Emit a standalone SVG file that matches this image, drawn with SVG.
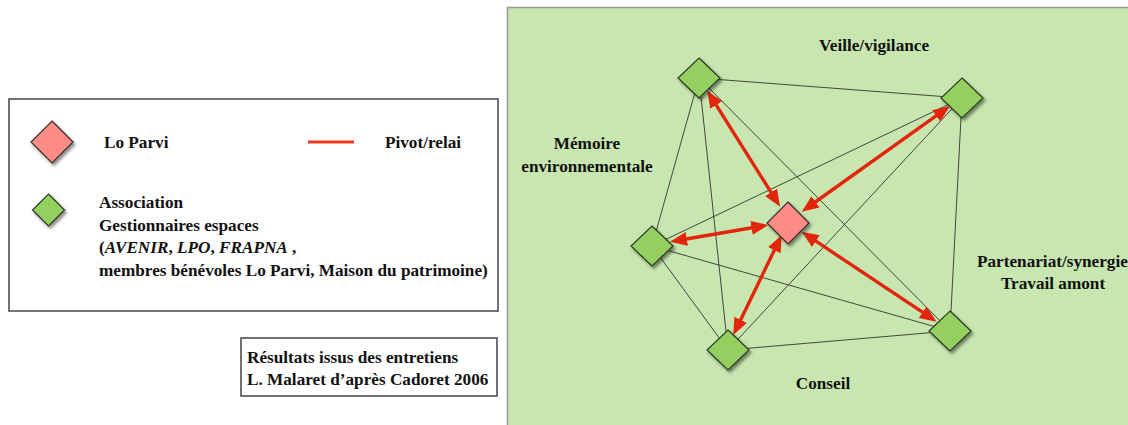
<svg xmlns="http://www.w3.org/2000/svg" width="1128" height="425" viewBox="0 0 1128 425">
<style>
text{font-family:"Liberation Serif","Times New Roman",serif;font-weight:bold;font-size:17.2px;fill:#111}
.it{font-style:italic}
.mid{text-anchor:middle}
.box{fill:#fff;stroke:#444;stroke-width:1.5}
.edge{stroke:#333;stroke-width:0.9;fill:none}
.arrow{stroke:#e3260b;stroke-width:3.4;fill:none;marker-start:url(#ah);marker-end:url(#ah)}
.green{fill:#93d05e;stroke:#2f3a26;stroke-width:1.2;filter:url(#sh)}
.pink{fill:#fd8c85;stroke:#3a2a28;stroke-width:1.2;filter:url(#sh)}
</style>
<defs>
<filter id="sh" x="-30%" y="-30%" width="170%" height="170%">
<feDropShadow dx="2" dy="2.5" stdDeviation="1.6" flood-color="#000" flood-opacity="0.45"/>
</filter>
<marker id="ah" markerUnits="userSpaceOnUse" markerWidth="18" markerHeight="16" viewBox="0 0 18 16" refX="8" refY="8" orient="auto-start-reverse">
<path d="M0,1 L17,8 L0,15 z" fill="#e3260b"/>
</marker>
</defs>
<rect width="1128" height="425" fill="#fff"/>
<rect id="panel" x="507.5" y="7.5" width="640" height="440" fill="#c8e6b0" stroke="#999" stroke-width="1.5"/>

<g id="legend">
<rect class="box" x="9" y="99" width="489" height="212"/>
<path class="pink" d="M52,121 L73,142 L52,163 L31,142 z"/>
<text x="104" y="148">Lo Parvi</text>
<line x1="308" y1="142" x2="354" y2="142" stroke="#f03a1e" stroke-width="3"/>
<text x="385" y="148">Pivot/relai</text>
<path class="green" d="M48.5,194 L64.5,210 L48.5,226 L32.5,210 z"/>
<text x="99" y="208">Association</text>
<text x="99" y="230.5">Gestionnaires espaces</text>
<text x="99" y="253">(<tspan class="it">AVENIR</tspan>, <tspan class="it">LPO</tspan>, <tspan class="it">FRAPNA</tspan> ,</text>
<text x="99" y="275.5">membres bénévoles Lo Parvi, Maison du patrimoine)</text>
</g>

<g id="source">
<rect class="box" x="241" y="338" width="256" height="58"/>
<text x="247" y="362.5">Résultats issus des entretiens</text>
<text x="247" y="385">L. Malaret d’après Cadoret 2006</text>
</g>

<g id="connectors">
<line class="edge" x1="699" y1="78" x2="962" y2="98"/>
<line class="edge" x1="699" y1="78" x2="652" y2="246"/>
<line class="edge" x1="699" y1="78" x2="728" y2="350"/>
<line class="edge" x1="699" y1="78" x2="950" y2="331"/>
<line class="edge" x1="962" y1="98" x2="652" y2="246"/>
<line class="edge" x1="962" y1="98" x2="728" y2="350"/>
<line class="edge" x1="962" y1="98" x2="950" y2="331"/>
<line class="edge" x1="652" y1="246" x2="728" y2="350"/>
<line class="edge" x1="652" y1="246" x2="950" y2="331"/>
<line class="edge" x1="728" y1="350" x2="950" y2="331"/>
<line class="arrow" x1="712" y1="98.3" x2="775.3" y2="199.1"/>
<line class="arrow" x1="942.7" y1="111.2" x2="809" y2="206.5"/>
<line class="arrow" x1="678.9" y1="240.2" x2="759.4" y2="226.5"/>
<line class="arrow" x1="737.2" y1="326.9" x2="777.8" y2="243.1"/>
<line class="arrow" x1="929.2" y1="316.7" x2="809.2" y2="236.7"/>
</g>

<g id="n-veille"><path class="green" d="M699,58 L720,78 L699,98 L678,78 z"/></g>
<g id="n-veille2"><path class="green" d="M962,78 L983,98 L962,118 L941,98 z"/></g>
<g id="n-memoire"><path class="green" d="M652,226 L673,246 L652,266 L631,246 z"/></g>
<g id="n-conseil"><path class="green" d="M728,330 L749,350 L728,370 L707,350 z"/></g>
<g id="n-partenariat"><path class="green" d="M950,311 L971,331 L950,351 L929,331 z"/></g>
<g id="n-loparvi"><path class="pink" d="M788,202 L809,223 L788,244 L767,223 z"/></g>

<g id="labels">
<text class="mid" x="874" y="51">Veille/vigilance</text>
<text class="mid" x="587" y="149">Mémoire</text>
<text class="mid" x="587" y="171.5">environnementale</text>
<text x="977" y="267">Partenariat/synergie</text>
<text class="mid" x="1053" y="289">Travail amont</text>
<text class="mid" x="823" y="389">Conseil</text>
</g>
</svg>
